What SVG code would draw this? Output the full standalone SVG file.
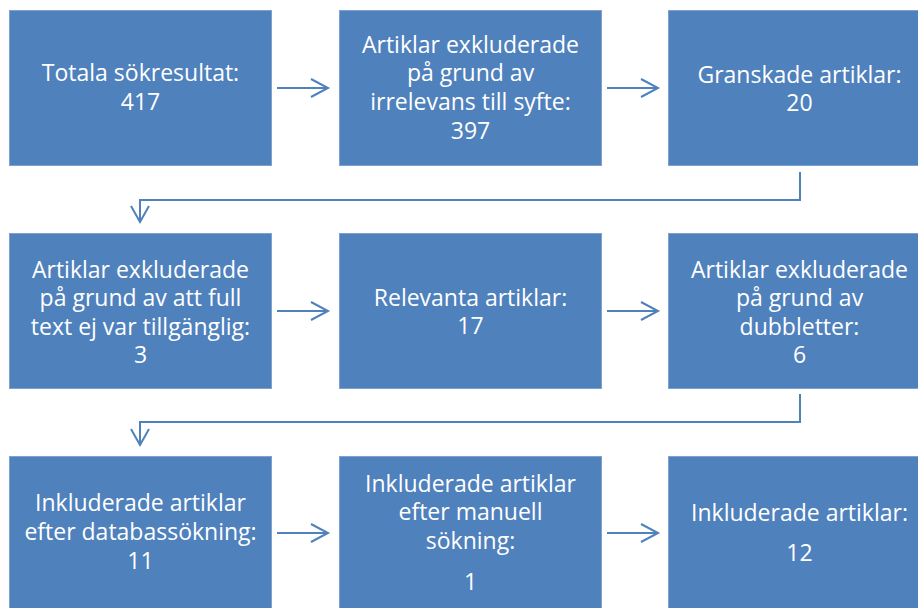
<svg xmlns="http://www.w3.org/2000/svg" width="918" height="608" viewBox="0 0 918 608">
<style>
.box{fill:#4f81bd;stroke:#7ea1d0;stroke-width:1}
.t{font-family:"Open Sans","Liberation Sans",sans-serif;font-size:23px;fill:#ffffff;text-anchor:middle}
.c{fill:none;stroke:#4f81bd;stroke-width:2}
.h{fill:none;stroke:#4f81bd;stroke-width:2;stroke-linejoin:miter}
</style>
<rect width="918" height="608" fill="#ffffff"/>
<g id="n1"><rect class="box" x="9.5" y="10.5" width="262" height="155"/><text class="t" x="140.5"><tspan x="140.5" y="81">Totala sökresultat:</tspan><tspan x="140.5" y="110">417</tspan></text></g>
<g id="n2"><rect class="box" x="339.5" y="10.5" width="262" height="155"/><text class="t"><tspan x="470.5" y="53">Artiklar exkluderade</tspan><tspan x="470.5" y="81">på grund av</tspan><tspan x="470.5" y="110">irrelevans till syfte:</tspan><tspan x="470.5" y="139">397</tspan></text></g>
<g id="n3"><rect class="box" x="668.5" y="10.5" width="262" height="155"/><text class="t"><tspan x="799.5" y="83">Granskade artiklar:</tspan><tspan x="799.5" y="111">20</tspan></text></g>
<g id="n4"><rect class="box" x="9.5" y="233.5" width="262" height="155"/><text class="t"><tspan x="140.5" y="278">Artiklar exkluderade</tspan><tspan x="140.5" y="306">på grund av att full</tspan><tspan x="140.5" y="335">text ej var tillgänglig:</tspan><tspan x="140.5" y="363">3</tspan></text></g>
<g id="n5"><rect class="box" x="339.5" y="233.5" width="262" height="155"/><text class="t"><tspan x="470.5" y="306">Relevanta artiklar:</tspan><tspan x="470.5" y="334">17</tspan></text></g>
<g id="n6"><rect class="box" x="668.5" y="233.5" width="262" height="155"/><text class="t"><tspan x="799.5" y="278">Artiklar exkluderade</tspan><tspan x="799.5" y="306">på grund av</tspan><tspan x="799.5" y="335">dubbletter:</tspan><tspan x="799.5" y="363">6</tspan></text></g>
<g id="n7"><rect class="box" x="9.5" y="456.5" width="262" height="155"/><text class="t"><tspan x="140.5" y="511">Inkluderade artiklar</tspan><tspan x="140.5" y="540">efter databassökning:</tspan><tspan x="140.5" y="569">11</tspan></text></g>
<g id="n8"><rect class="box" x="339.5" y="456.5" width="262" height="155"/><text class="t"><tspan x="470.5" y="492">Inkluderade artiklar</tspan><tspan x="470.5" y="520">efter manuell</tspan><tspan x="470.5" y="549">sökning:</tspan><tspan x="470.5" y="590">1</tspan></text></g>
<g id="n9"><rect class="box" x="668.5" y="456.5" width="262" height="155"/><text class="t"><tspan x="799.5" y="521">Inkluderade artiklar:</tspan><tspan x="799.5" y="561">12</tspan></text></g>
<g id="connectors">
<path class="c" d="M277 88H328"/><path class="h" d="M311 79L328 88L311 97"/>
<path class="c" d="M607 88H658"/><path class="h" d="M641 79L658 88L641 97"/>
<path class="c" d="M800 172V200H140V222"/><path class="h" d="M131 206L140 222L149 206"/>
<path class="c" d="M277 311H328"/><path class="h" d="M311 302L328 311L311 320"/>
<path class="c" d="M607 311H658"/><path class="h" d="M641 302L658 311L641 320"/>
<path class="c" d="M800 394V422H140V445"/><path class="h" d="M131 429L140 445L149 429"/>
<path class="c" d="M277 533H328"/><path class="h" d="M311 524L328 533L311 542"/>
<path class="c" d="M607 533H658"/><path class="h" d="M641 524L658 533L641 542"/>
</g>
</svg>
